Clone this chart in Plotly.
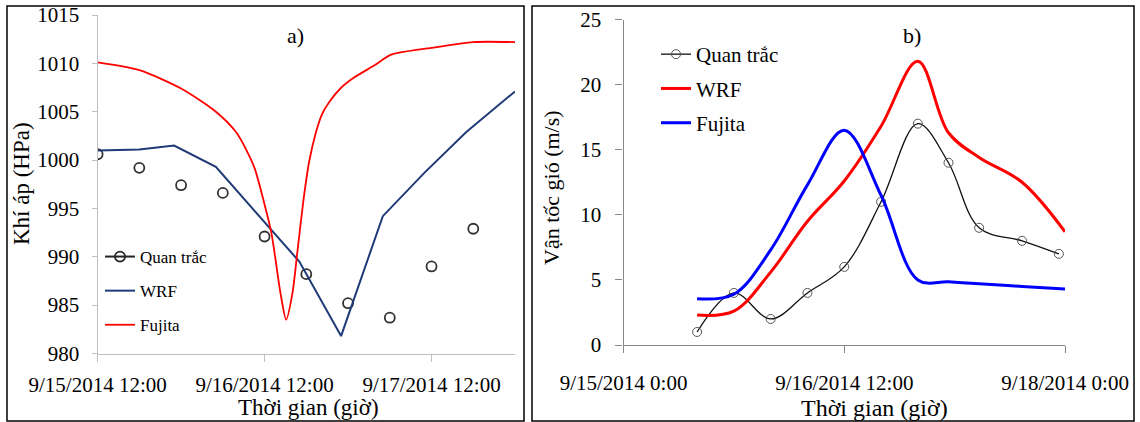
import pandas as pd
import plotly.graph_objects as go

# ---------------- Panel a: pressure (hPa) ----------------
base_a = pd.Timestamp("2014-09-15 12:00")
obs_a_hours = [0, 6, 12, 18, 24, 30, 36, 42, 48, 54]
obs_a_values = [1000.6, 999.2, 997.4, 996.6, 992.1, 988.2, 985.2, 983.7, 989.0, 992.9]

wrf_a_hours = [0, 6, 11, 17, 29, 35, 41, 47, 53, 60]
wrf_a_values = [1001.0, 1001.1, 1001.5, 999.3, 989.5, 981.8, 994.2, 998.7, 1002.9, 1007.1]

fuj_a_hours = [0, 6, 12, 17, 20, 22.5, 24, 25, 26.3, 27.1, 28, 28.7, 29.6, 30.4, 31.4, 32.3, 33.3,
               34.9, 36.8, 39.8, 42.2, 48, 54, 60]
fuj_a_values = [1010.1, 1009.3, 1007.4, 1005.0, 1002.8, 999.3, 995.4, 992.4, 986.2, 983.5, 986.2, 990.4,
                995.9, 999.8, 1002.9, 1004.8, 1006.0, 1007.4, 1008.5, 1009.8, 1010.9, 1011.6, 1012.2, 1012.2]

# ---------------- Panel b: wind speed (m/s) ----------------
base_b = pd.Timestamp("2014-09-15 00:00")
obs_b_hours = [12, 18, 24, 30, 36, 42, 48, 53, 58, 65, 71]
obs_b_values = [1, 4, 2, 4, 6, 11, 17, 14, 9, 8, 7]

wrf_b_hours = [12, 18, 24, 30, 36, 42, 48, 53, 58, 65, 72]
wrf_b_values = [2.3, 2.6, 5.6, 9.5, 12.6, 16.8, 21.8, 16.3, 14.4, 12.5, 8.7]

fuj_b_hours = [12, 18, 24, 30, 36, 42, 48, 53, 58, 65, 72]
fuj_b_values = [3.55, 3.9, 7.3, 12.3, 16.5, 11.5, 5.0, 4.85, 4.7, 4.5, 4.3]

legend_labels = ["Quan trắc", "WRF", "Fujita"]
panel_labels = ["a)", "b)"]
y_titles = ["Khí áp (HPa)", "Vận tốc gió (m/s)"]
x_title = "Thời gian (giờ)"


def to_time(base, hours):
    return [base + pd.Timedelta(hours=h) for h in hours]


FONT = "Liberation Serif, Times New Roman, serif"
W, H = 1140, 422

fig = go.Figure()

# ----- panel a traces -----
fig.add_trace(go.Scatter(
    x=to_time(base_a, obs_a_hours), y=obs_a_values, mode="markers",
    marker=dict(symbol="circle-open", size=10, color="#333333", line=dict(width=1.8)),
    showlegend=False, xaxis="x", yaxis="y"))
fig.add_trace(go.Scatter(
    x=[None], y=[None], mode="lines+markers", name=legend_labels[0],
    line=dict(color="#222222", width=2),
    marker=dict(symbol="circle-open", size=10, color="#222222", line=dict(width=1.8)),
    legend="legend", legendgroup="a1", xaxis="x", yaxis="y"))
fig.add_trace(go.Scatter(
    x=to_time(base_a, wrf_a_hours), y=wrf_a_values, mode="lines", name=legend_labels[1],
    line=dict(color="#1F3A78", width=2), legend="legend", legendgroup="a2", xaxis="x", yaxis="y"))
fig.add_trace(go.Scatter(
    x=to_time(base_a, fuj_a_hours), y=fuj_a_values, mode="lines", name=legend_labels[2],
    line=dict(color="#FF0000", width=1.8, shape="spline", smoothing=0.7),
    legend="legend", legendgroup="a3", xaxis="x", yaxis="y"))

# ----- panel b traces -----
fig.add_trace(go.Scatter(
    x=to_time(base_b, obs_b_hours), y=obs_b_values, mode="lines+markers", name=legend_labels[0],
    line=dict(color="#111111", width=1.3, shape="spline", smoothing=1),
    marker=dict(symbol="circle-open", size=9, color="#555555", line=dict(width=1)),
    legend="legend2", legendgroup="b1", xaxis="x2", yaxis="y2"))
fig.add_trace(go.Scatter(
    x=to_time(base_b, wrf_b_hours), y=wrf_b_values, mode="lines", name=legend_labels[1],
    line=dict(color="#FF0000", width=3, shape="spline", smoothing=1),
    legend="legend2", legendgroup="b2", xaxis="x2", yaxis="y2"))
fig.add_trace(go.Scatter(
    x=to_time(base_b, fuj_b_hours), y=fuj_b_values, mode="lines", name=legend_labels[2],
    line=dict(color="#0000FF", width=3, shape="spline", smoothing=1),
    legend="legend2", legendgroup="b3", xaxis="x2", yaxis="y2"))

tick_font = dict(family=FONT, size=21, color="black")

fig.update_layout(
    template="none",
    width=W, height=H, autosize=False,
    margin=dict(l=0, r=0, t=0, b=0, pad=0, autoexpand=False),
    paper_bgcolor="white", plot_bgcolor="white",
    font=dict(family=FONT, color="black"),
    xaxis=dict(domain=[97.6 / W, 515 / W], anchor="y", type="date", automargin=False,
               range=[base_a, base_a + pd.Timedelta(hours=60)],
               tick0=base_a, dtick=86400000, tickformat="%-m/%-d/%Y %H:%M",
               showgrid=False, zeroline=False, showline=True, linecolor="#BFBFBF", linewidth=1.2,
               ticks="outside", ticklen=7, tickcolor="#BFBFBF", tickfont=tick_font,
               ticklabelstandoff=5),
    yaxis=dict(domain=[1 - 353.5 / H, 1 - 15 / H], anchor="x", range=[980, 1015], dtick=5,
               automargin=False,
               showgrid=False, zeroline=False, showline=True, linecolor="#BFBFBF", linewidth=1.2,
               ticks="outside", ticklen=5, tickcolor="#BFBFBF", tickfont=tick_font,
               ticklabelstandoff=8),
    xaxis2=dict(domain=[623.5 / W, 1065 / W], anchor="y2", type="date", automargin=False,
                range=[base_b, base_b + pd.Timedelta(hours=72)],
                tick0=base_b, dtick=129600000, tickformat="%-m/%-d/%Y %-H:%M",
                showgrid=False, zeroline=False, showline=True, linecolor="#868686", linewidth=1.2,
                ticks="outside", ticklen=7, tickcolor="#868686", tickfont=tick_font,
                ticklabelstandoff=12),
    yaxis2=dict(domain=[1 - 345 / H, 1 - 19.5 / H], anchor="x2", range=[0, 25], dtick=5,
                automargin=False,
                showgrid=False, zeroline=False, showline=True, linecolor="#868686", linewidth=1.2,
                ticks="outside", ticklen=7, tickcolor="#868686", tickfont=tick_font,
                ticklabelstandoff=10),
    legend=dict(x=100 / W, y=1 - 239 / H, xanchor="left", yanchor="top",
                font=dict(family=FONT, size=17, color="black"), bgcolor="rgba(0,0,0,0)",
                borderwidth=0, tracegroupgap=9, traceorder="grouped"),
    legend2=dict(x=656 / W, y=1 - 34 / H, xanchor="left", yanchor="top",
                 font=dict(family=FONT, size=21, color="black"), bgcolor="rgba(0,0,0,0)",
                 borderwidth=0, tracegroupgap=4, traceorder="grouped"),
)

# panel borders
fig.add_shape(type="rect", xref="paper", yref="paper", x0=7 / W, x1=524 / W, y0=1 / H, y1=1 - 6 / H,
              line=dict(color="black", width=1.5), layer="below")
fig.add_shape(type="rect", xref="paper", yref="paper", x0=532 / W, x1=1134 / W, y0=1 / H, y1=1 - 6 / H,
              line=dict(color="black", width=1.5), layer="below")

ann = [
    dict(text=panel_labels[0], x=295 / W, y=1 - 35 / H, size=22),
    dict(text=panel_labels[1], x=912 / W, y=1 - 35 / H, size=22),
    dict(text=x_title, x=308 / W, y=1 - 407 / H, size=23),
    dict(text=x_title, x=874 / W, y=1 - 408 / H, size=24),
]
for a in ann:
    fig.add_annotation(text=a["text"], x=a["x"], y=a["y"], xref="paper", yref="paper",
                       showarrow=False, xanchor="center", yanchor="middle",
                       font=dict(family=FONT, size=a["size"], color="black"))
fig.add_annotation(text=y_titles[0], x=21 / W, y=1 - 184 / H, xref="paper", yref="paper",
                   showarrow=False, textangle=-90, xanchor="center", yanchor="middle",
                   font=dict(family=FONT, size=23, color="black"))
fig.add_annotation(text=y_titles[1], x=552 / W, y=1 - 188 / H, xref="paper", yref="paper",
                   showarrow=False, textangle=-90, xanchor="center", yanchor="middle",
                   font=dict(family=FONT, size=22, color="black"))

fig.write_html(
    "out.html",
    config={"displayModeBar": False},
    post_script="document.body.style.margin='0';document.body.style.overflow='hidden';",
)
